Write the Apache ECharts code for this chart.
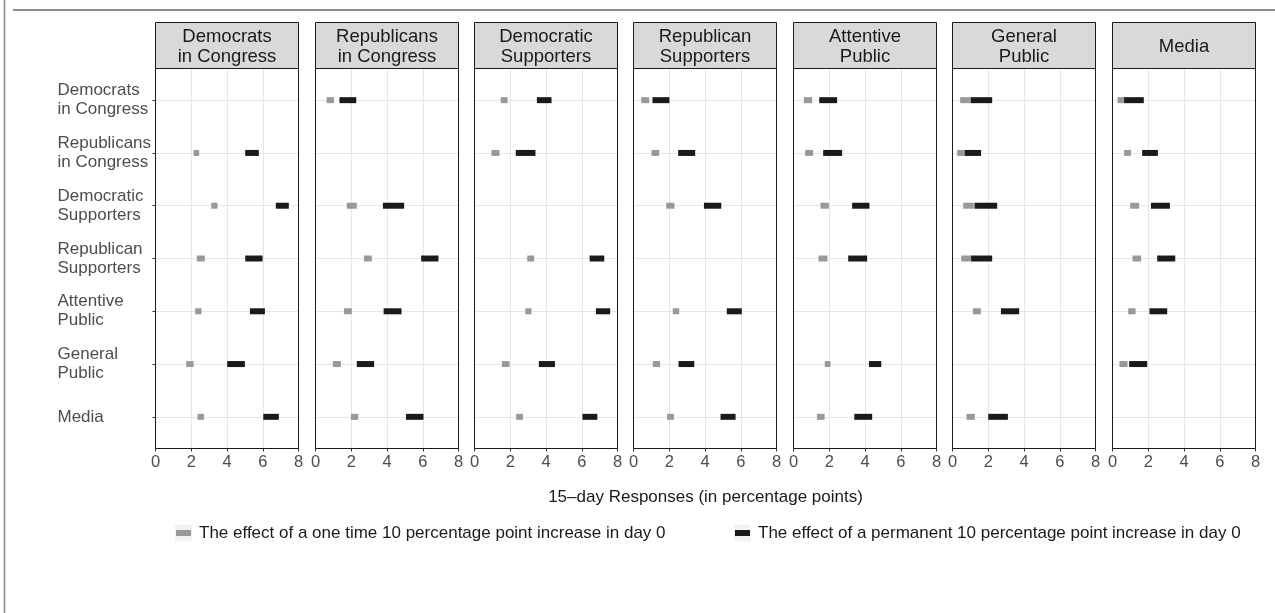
<!DOCTYPE html>
<html><head><meta charset="utf-8">
<script src="https://cdn.jsdelivr.net/npm/echarts@6/dist/echarts.min.js"></script>
<style>html,body{margin:0;padding:0;background:#fff}#c{width:1275px;height:613px}</style>
</head><body><div id="c"></div>
<script>
// ---- data ----
const groups = ['Democrats\nin Congress','Republicans\nin Congress','Democratic\nSupporters','Republican\nSupporters','Attentive\nPublic','General\nPublic','Media'];
const xTicks = [0, 2, 4, 6, 8];
const seriesNames = ['The effect of a one time 10 percentage point increase in day 0','The effect of a permanent 10 percentage point increase in day 0'];
// per panel (responding actor), per row (shocked actor): [start, end]; null = none
const oneTime = [
  [null,[2.13,2.44],[3.12,3.47],[2.31,2.76],[2.22,2.57],[1.72,2.13],[2.35,2.71]],
  [[0.62,1.03],null,[1.75,2.31],[2.71,3.15],[1.59,2.03],[0.97,1.42],[1.98,2.39]],
  [[1.47,1.85],[0.95,1.40],null,[2.95,3.34],[2.84,3.19],[1.53,1.96],[2.33,2.71]],
  [[0.43,0.88],[1.01,1.44],[1.83,2.29],null,[2.20,2.56],[1.08,1.49],[1.88,2.26]],
  [[0.58,1.04],[0.65,1.10],[1.51,1.98],[1.40,1.90],null,[1.75,2.07],[1.31,1.74]],
  [[0.43,0.99],[0.26,0.71],[0.60,1.19],[0.49,1.04],[1.14,1.59],null,[0.78,1.25]],
  [[0.28,0.69],[0.65,1.04],[0.99,1.49],[1.12,1.60],[0.88,1.29],[0.39,0.84],null]
];
const permanent = [
  [null,[5.02,5.78],[6.73,7.46],[5.02,5.99],[5.28,6.12],[4.01,5.00],[6.03,6.90]],
  [[1.34,2.28],null,[3.77,4.96],[5.91,6.88],[3.81,4.81],[2.31,3.28],[5.06,6.04]],
  [[3.49,4.31],[2.31,3.41],null,[6.44,7.26],[6.79,7.59],[3.60,4.50],[6.04,6.87]],
  [[1.06,2.01],[2.50,3.45],[3.94,4.91],null,[5.22,6.06],[2.52,3.40],[4.87,5.71]],
  [[1.44,2.44],[1.66,2.72],[3.28,4.25],[3.06,4.12],null,[4.22,4.91],[3.40,4.40]],
  [[1.01,2.22],[0.69,1.60],[1.23,2.50],[1.04,2.22],[2.71,3.73],null,[2.00,3.10]],
  [[0.65,1.75],[1.66,2.54],[2.15,3.21],[2.50,3.51],[2.07,3.06],[0.93,1.94],null]
];
const xTitle = '15\u2013day Responses (in percentage points)';

// ---- layout ----
const FONT = 'Liberation Sans, Arial, Helvetica, sans-serif';
const panelLeft = [155.5, 315.5, 474.5, 633.5, 793.5, 952.5, 1112.5];
const panelW = 143, panelTop = 68.5, panelH = 380;
const stripTop = 22.5;
const rowIdx = [0,1,2,3,4,5,6];
const colors = ['#999999', '#1a1a1a'];

function toData(arr){
  const out = [];
  arr.forEach((r,i)=>{ if(r) out.push([r[0], r[1], i]); });
  return out;
}
function renderRange(params, api){
  const a = api.coord([api.value(0), api.value(2)]);
  const b = api.coord([api.value(1), api.value(2)]);
  const h = 6;
  return {type:'rect', shape:{x:a[0], y:a[1]-h/2, width:b[0]-a[0], height:h},
          style:{fill: api.visual('color')}};
}

const grids=[], xAxes=[], yAxes=[], series=[], graphics=[];
groups.forEach((g,p)=>{
  grids.push({left:panelLeft[p], top:panelTop, width:panelW, height:panelH,
    show:true, borderColor:'#1a1a1a', borderWidth:1, backgroundColor:'#fff'});
  xAxes.push({gridIndex:p, type:'value', min:0, max:8, interval:2, position:'bottom',
    axisLine:{show:false, onZero:false}, axisTick:{show:true, length:3, lineStyle:{color:'#333'}},
    axisLabel:{show:true, color:'#4d4d4d', fontSize:16.5, fontFamily:FONT, margin:5,
      customValues:xTicks, showMinLabel:true, showMaxLabel:true},
    splitLine:{show:true, lineStyle:{color:'#e6e6e6', width:1}}});
  yAxes.push({gridIndex:p, type:'value', min:-0.6, max:6.6, inverse:true,
    axisLine:{show:false, onZero:false},
    axisTick:{show:p===0, length:3, customValues:rowIdx, lineStyle:{color:'#333'}},
    axisLabel:{show:p===0, customValues:rowIdx, align:'left', margin:98,
      color:'#4d4d4d', fontSize:17, lineHeight:19, fontFamily:FONT,
      formatter:(v)=>groups[Math.round(v)]},
    splitLine:{show:true, lineStyle:{color:'#e6e6e6', width:1}}});
  series.push({type:'custom', name:seriesNames[0], xAxisIndex:p, yAxisIndex:p,
    itemStyle:{color:colors[0]}, renderItem:renderRange, data:toData(oneTime[p]),
    encode:{x:[0,1], y:2}, z:3});
  series.push({type:'custom', name:seriesNames[1], xAxisIndex:p, yAxisIndex:p,
    itemStyle:{color:colors[1]}, renderItem:renderRange, data:toData(permanent[p]),
    encode:{x:[0,1], y:2}, z:4});
  // panel border on top of grid lines
  graphics.push({type:'rect', shape:{x:panelLeft[p], y:panelTop, width:panelW, height:panelH},
    style:{fill:null, stroke:'#1a1a1a', lineWidth:1}, z:10, silent:true});
  graphics.push({type:'rect', shape:{x:panelLeft[p], y:stripTop, width:panelW, height:panelTop-stripTop},
    style:{fill:'#d9d9d9', stroke:'#1a1a1a', lineWidth:1}, z:10});
  graphics.push({type:'text', x:panelLeft[p]+panelW/2, y:47,
    style:{text:g, fill:'#1a1a1a', font:'18.5px '+FONT, align:'center', verticalAlign:'middle', lineHeight:20}, z:11});
});
// x-axis title
graphics.push({type:'text', x:(panelLeft[0]+panelLeft[6]+panelW)/2, y:497,
  style:{text:xTitle, fill:'#1a1a1a', font:'17px '+FONT, align:'center', verticalAlign:'middle'}});
// legend key backgrounds
graphics.push({type:'rect', shape:{x:175, y:524.5, width:17, height:17}, style:{fill:'#f2f2f2'}, z:0});
graphics.push({type:'rect', shape:{x:734, y:524.5, width:17, height:17}, style:{fill:'#f2f2f2'}, z:0});
// page frame lines
graphics.push({type:'line', shape:{x1:4.5, y1:0, x2:4.5, y2:613}, style:{stroke:'#888', lineWidth:1.5}});
graphics.push({type:'line', shape:{x1:13, y1:10, x2:1275, y2:10}, style:{stroke:'#1a1a1a', lineWidth:1.2}});

const legendCommon = {itemWidth:15, itemHeight:6, icon:'rect', selectedMode:false, z:5, padding:0,
  textStyle:{color:'#1a1a1a', fontSize:17, fontFamily:FONT, lineHeight:20, padding:[0,0,0,3]}};
const chart = echarts.init(document.getElementById('c'), null, {renderer:'canvas'});
chart.setOption({
  animation:false,
  backgroundColor:'#fff',
  grid:grids, xAxis:xAxes, yAxis:yAxes, series:series,
  legend:[
    Object.assign({data:[seriesNames[0]], left:176, top:523}, legendCommon),
    Object.assign({data:[seriesNames[1]], left:735, top:523}, legendCommon)
  ],
  graphic:graphics
});
</script></body></html>
